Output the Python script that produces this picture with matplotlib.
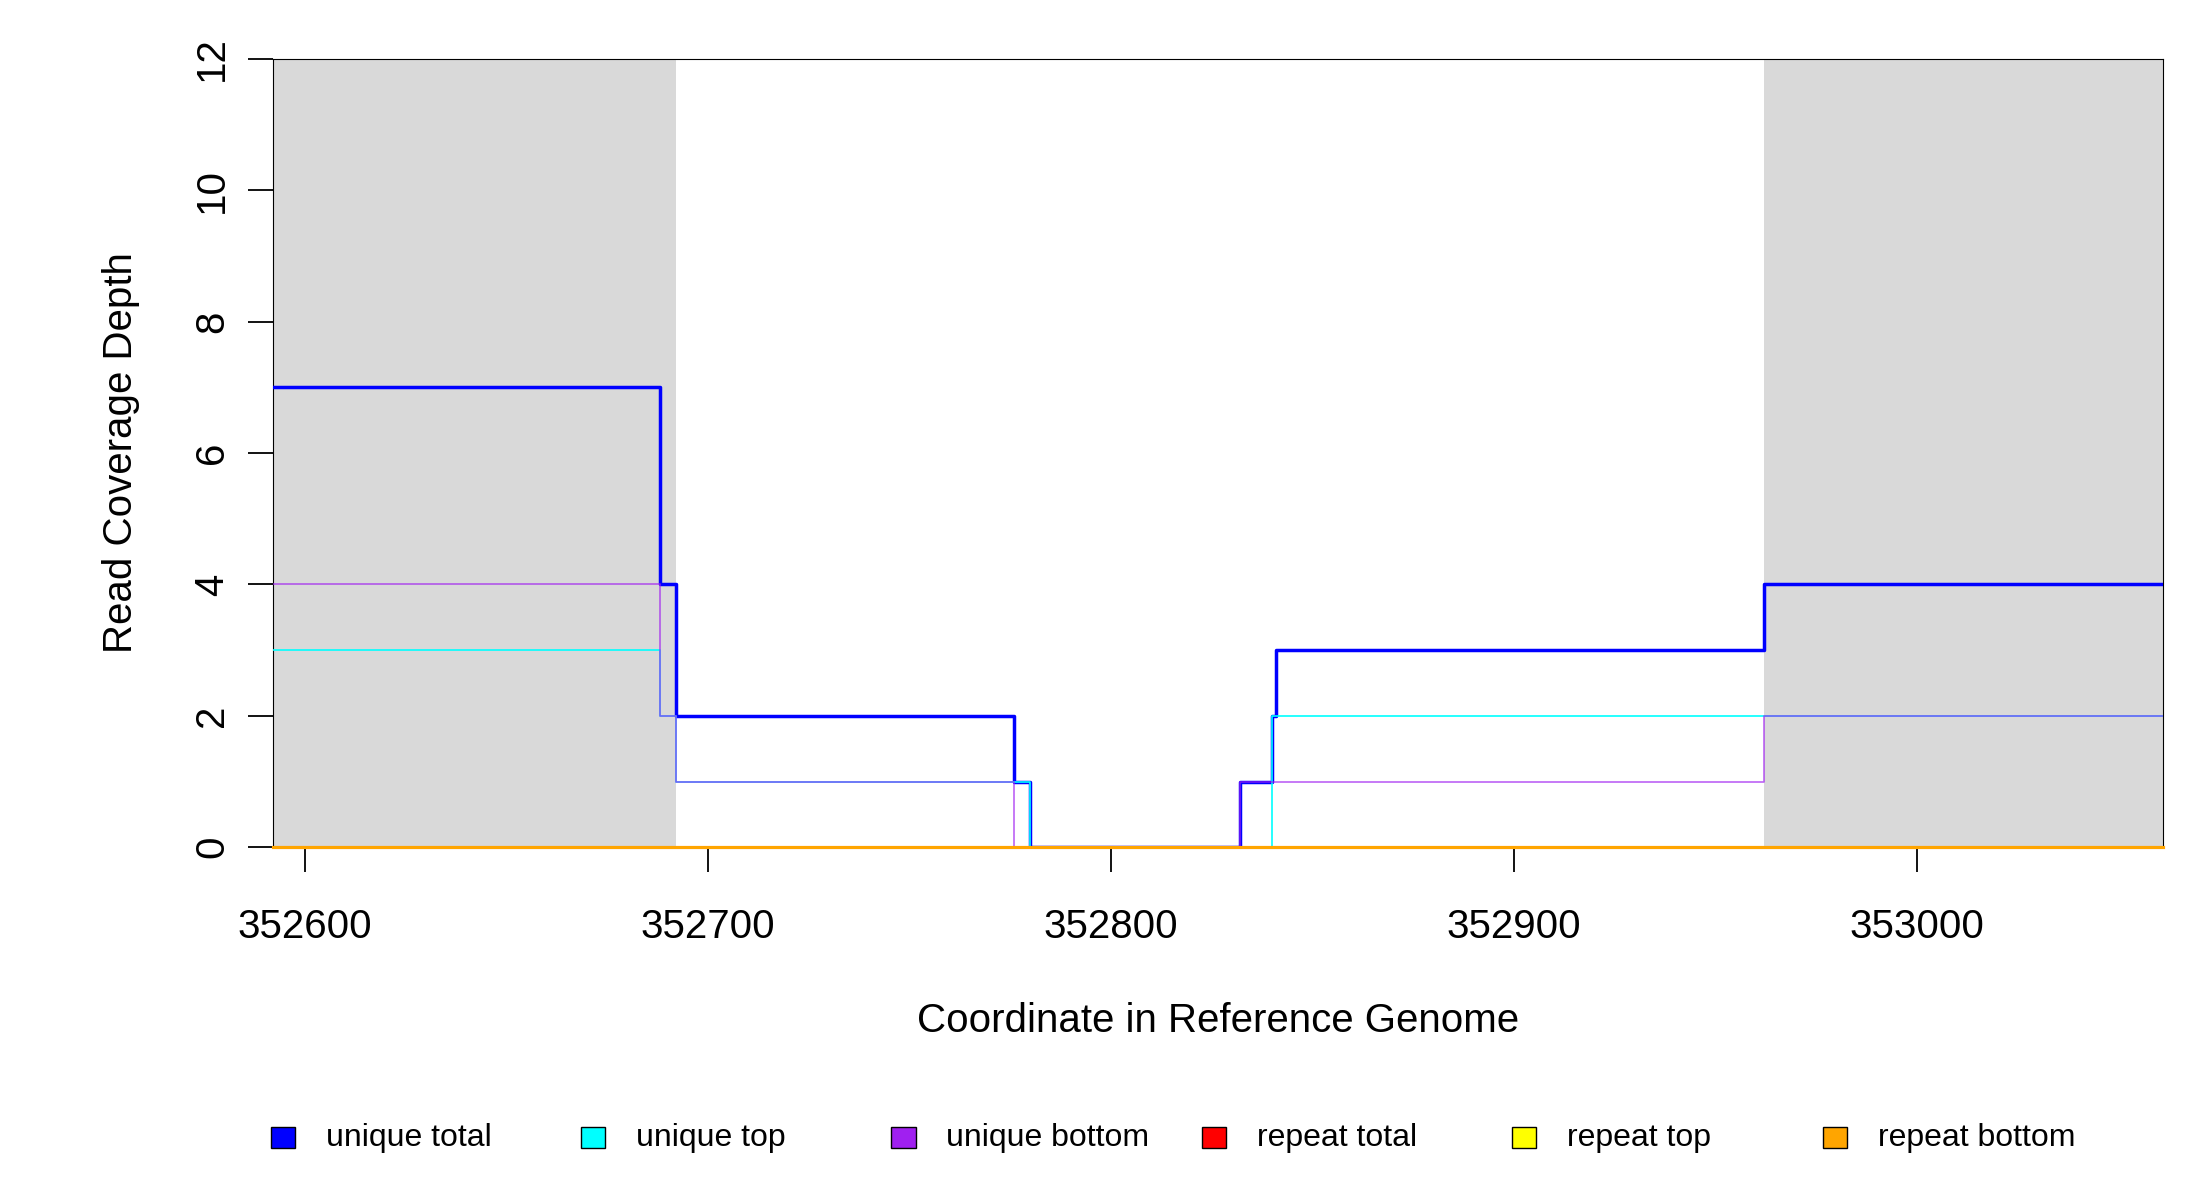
import matplotlib
matplotlib.use('Agg')
import matplotlib.pyplot as plt
from matplotlib.patches import Rectangle

plt.rcParams['font.family'] = ['Liberation Sans', 'DejaVu Sans']

# ── Data (step breakpoints) ──────────────────────────────────────────────────
x_lo, x_hi = 352592, 353061
shade = [(352592, 352692), (352962, 353061)]

total_x = [352592, 352688, 352692, 352776, 352780, 352832, 352840, 352841, 352962, 353061]
total_y = [7, 4, 2, 1, 0, 1, 2, 3, 4, 4]

top_x = [352592, 352688, 352692, 352780, 352840, 353061]
top_y = [3, 2, 1, 0, 2, 2]

bottom_x = [352592, 352688, 352692, 352776, 352832, 352962, 353061]
bottom_y = [4, 2, 1, 0, 1, 2, 2]

rep_x = [352592, 353061]
rep_y = [0, 0]

labels = ["unique total", "unique top", "unique bottom",
          "repeat total", "repeat top", "repeat bottom"]
colors = ["blue", "cyan", "#a020f0", "red", "yellow", "orange"]

# ── Figure ───────────────────────────────────────────────────────────────────
fig = plt.figure(figsize=(22, 12), dpi=100)
ax = fig.add_axes([0.124, 0.294, 0.859, 0.657])

for a, b in shade:
    ax.axvspan(a, b, color='#d9d9d9', lw=0, zorder=0)

ax.step(total_x, total_y, where='post', color='blue', lw=2.5, zorder=3)
ax.step(top_x, top_y, where='post', color='cyan', lw=1.2, zorder=4)
ax.step(bottom_x, bottom_y, where='post', color='#a020f0', lw=1.2, alpha=0.7, zorder=5)
for c in ['red', 'yellow', 'orange']:
    ax.step(rep_x, rep_y, where='post', color=c, lw=2.2, zorder=6, clip_on=False)

ax.set_xlim(x_lo, x_hi)
ax.set_ylim(0, 12)
ax.set_xticks([352600, 352700, 352800, 352900, 353000])
ax.set_yticks([0, 2, 4, 6, 8, 10, 12])
ax.tick_params(axis='x', labelsize=29, length=18, width=1.3, pad=26)
ax.tick_params(axis='y', labelsize=29, length=18, width=1.3, pad=12, labelrotation=90)
for t in ax.get_yticklabels():
    t.set_va('center')
ax.set_xlabel("Coordinate in Reference Genome", fontsize=29, labelpad=40)
ax.set_ylabel("Read Coverage Depth", fontsize=29, labelpad=38)

# ── Legend along the bottom ───────────────────────────────────────────────────
for i, (lab, c) in enumerate(zip(labels, colors)):
    x0 = 0.123 + i * 0.1411
    fig.patches.append(Rectangle((x0, 0.043), 0.011, 0.018, transform=fig.transFigure,
                                 facecolor=c, edgecolor='black', lw=1))
    fig.text(x0 + 0.025, 0.052, lab, fontsize=23, va='center')

fig.savefig("out.png", dpi=100)
